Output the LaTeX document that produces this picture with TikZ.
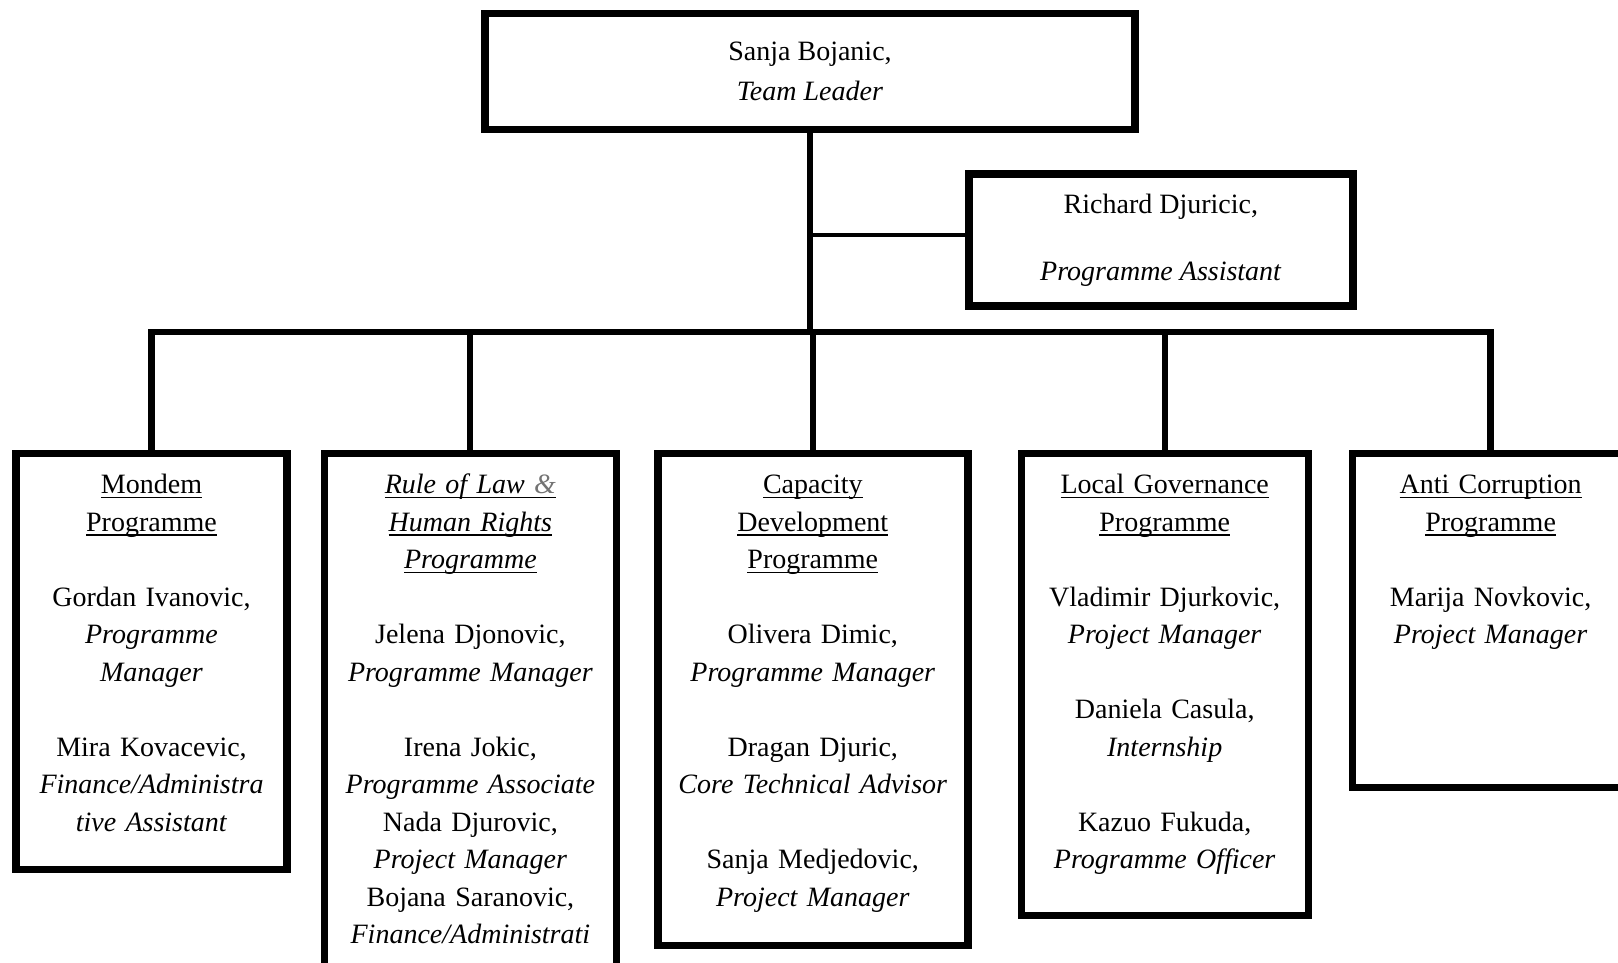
\documentclass[tikz,border=0pt]{standalone}
\usepackage{fontspec}
\setmainfont{Liberation Serif}
\usetikzlibrary{positioning}
% underline sitting just below the baseline
\newcommand{\uln}[1]{\leavevmode\setbox0=\hbox{#1}\rlap{\rule[-2.3pt]{\wd0}{0.7pt}}\box0}
\tikzset{
      base/.style = {draw, line width=3.7pt, align=center,
                     font=\fontsize{14pt}{18.75pt}\selectfont},
      head/.style = {base, inner sep=0pt},
      unit/.style = {base, inner sep=0pt, text height=20pt, anchor=north},
      link/.style = {line width=3pt, line join=miter},
        }

\begin{document}
\begin{tikzpicture}[x=0.5pt,y=-0.5pt]
\useasboundingbox (0,0) rectangle (1618,963);
\clip (0,0) rectangle (1618,963);
 % top of the chart
\node[head, minimum width=325pt, minimum height=58pt] (lead) at (810,71.5)
    {Sanja Bojanic,\\[1.25pt]\textit{Team Leader}};
\node[head, minimum width=192pt, minimum height=66pt,
      below right=18.5pt and -86.75pt of lead] (assist)
    {Richard Djuricic,\\[14.75pt]\textit{Programme Assistant}};
 % programme units
\node[unit, text width=135.5pt, text depth=188pt] (mondem) at (151.5,450)
    {\uln{Mondem}\\\uln{Programme}\\[18.75pt]
     Gordan Ivanovic,\\\textit{Programme}\\\textit{Manager}\\[18.75pt]
     Mira Kovacevic,\\\textit{Finance/Administra}\\\textit{tive Assistant}};
\node[unit, text width=146pt, text depth=250pt, base right=15pt of mondem] (rol)
    {\uln{\textit{Rule of Law \textcolor{black!55}{\&}}}\\\uln{\textit{Human Rights}}\\\uln{\textit{Programme}}\\[18.75pt]
     Jelena Djonovic,\\\textit{Programme Manager}\\[18.75pt]
     Irena Jokic,\\\textit{Programme Associate}\\
     Nada Djurovic,\\\textit{Project Manager}\\
     Bojana Saranovic,\\\textit{Finance/Administrati}};
\node[unit, text width=155pt, text depth=226pt, base right=17pt of rol] (cap)
    {\uln{Capacity}\\\uln{Development}\\\uln{Programme}\\[18.75pt]
     Olivera Dimic,\\\textit{Programme Manager}\\[18.75pt]
     Dragan Djuric,\\\textit{Core Technical Advisor}\\[18.75pt]
     Sanja Medjedovic,\\\textit{Project Manager}};
\node[unit, text width=143.5pt, text depth=211pt, base right=23pt of cap] (locgov)
    {\uln{Local Governance}\\\uln{Programme}\\[18.75pt]
     Vladimir Djurkovic,\\\textit{Project Manager}\\[18.75pt]
     Daniela Casula,\\\textit{Internship}\\[18.75pt]
     Kazuo Fukuda,\\\textit{Programme Officer}};
\node[unit, text width=138pt, text depth=147pt, base right=18.5pt of locgov] (anti)
    {\uln{Anti Corruption}\\\uln{Programme}\\[18.75pt]
     Marija Novkovic,\\\textit{Project Manager}};
 % connectors
\coordinate (busy) at (0,332);
\draw[link] (lead.south) -- (lead.south |- busy);
\draw[link, line width=2pt] ([yshift=2.5pt]assist.west) -- ([yshift=2.5pt]assist.west -| lead.south);
\draw[link, line width=3.4pt] (mondem.north) |- (lead.south |- busy) -| (anti.north);
\foreach \u in {rol,cap,locgov}
  \draw[link] (\u.north) -- (\u.north |- busy);
\end{tikzpicture}
\end{document}
